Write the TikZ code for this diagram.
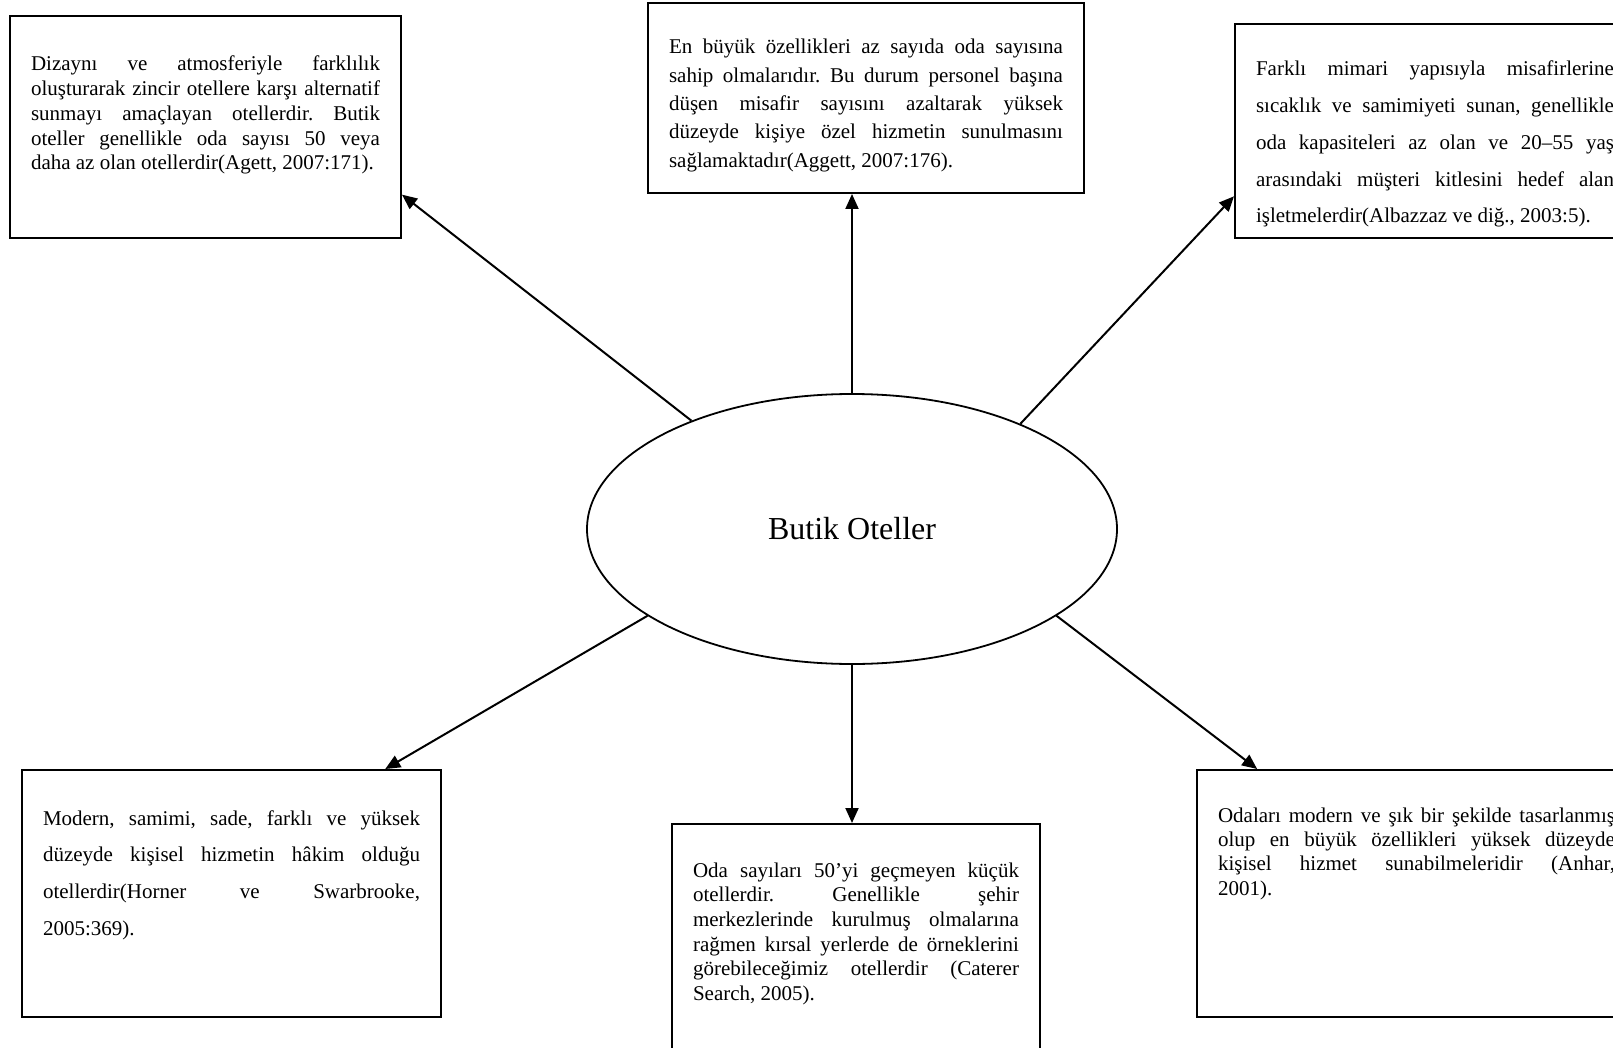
\documentclass[tikz,border=0pt]{standalone}
\usepackage{fontspec}
\setmainfont{Liberation Serif}
\usetikzlibrary{arrows.meta,shapes.geometric}
\frenchspacing
\hyphenpenalty=10000
\exhyphenpenalty=10000
\tolerance=10000

\begin{document}
\begin{tikzpicture}[x=1pt,y=-1pt,
	kutu/.style={draw,line width=2pt,anchor=north west,inner xsep=21pt,inner ysep=0pt,align=justify,font=\fontsize{21}{24.7}\selectfont},
	ok/.style={line width=2pt,-{Triangle[length=15pt,width=13pt]}}]
		\useasboundingbox (0,0) rectangle (1613,1048);
		\node[draw,ellipse,line width=1.8pt,minimum width=530pt,minimum height=270pt,font=\fontsize{32}{38}\selectfont] (butik) at (852,529) {Butik Oteller};
		\node[kutu,text width=349pt,text height=55pt,text depth=167pt] (dizayn) at (9,15) {Dizaynı ve atmosferiyle farklılık\linebreak oluşturarak zincir otellere karşı alternatif\linebreak sunmayı amaçlayan otellerdir. Butik\linebreak oteller genellikle oda sayısı 50 veya\linebreak daha az olan otellerdir(Agett, 2007:171).};
		\node[kutu,text width=394pt,text height=51pt,text depth=139pt,font=\fontsize{21}{28.3}\selectfont] (enbuyuk) at (647,2) {En büyük özellikleri az sayıda oda sayısına\linebreak sahip olmalarıdır. Bu durum personel başına\linebreak düşen misafir sayısını azaltarak yüksek\linebreak düzeyde kişiye özel hizmetin sunulmasını\linebreak sağlamaktadır(Aggett, 2007:176).};
		\node[kutu,text width=358pt,text height=52pt,text depth=162pt,font=\fontsize{21}{36.7}\selectfont] (farkli) at (1234,23) {Farklı mimari yapısıyla misafirlerine\linebreak sıcaklık ve samimiyeti sunan, genellikle\linebreak oda kapasiteleri az olan ve 20–55 yaş\linebreak arasındaki müşteri kitlesini hedef alan\linebreak işletmelerdir(Albazzaz ve diğ., 2003:5).};
		\node[kutu,text width=377pt,text height=55pt,text depth=192pt,font=\fontsize{21}{36.7}\selectfont] (modern) at (21,769) {Modern, samimi, sade, farklı ve yüksek\linebreak düzeyde kişisel hizmetin hâkim olduğu\linebreak otellerdir(Horner ve Swarbrooke,\linebreak 2005:369).};
		\node[kutu,text width=326pt,text height=53pt,text depth=184pt] (oda) at (671,823) {Oda sayıları 50’yi geçmeyen küçük\linebreak otellerdir. Genellikle şehir\linebreak merkezlerinde kurulmuş olmalarına\linebreak rağmen kırsal yerlerde de örneklerini\linebreak görebileceğimiz otellerdir (Caterer\linebreak Search, 2005).};
		\node[kutu,text width=397pt,text height=52pt,text depth=195pt,font=\fontsize{21}{24.4}\selectfont] (odalar) at (1196,769) {Odaları modern ve şık bir şekilde tasarlanmış\linebreak olup en büyük özellikleri yüksek düzeyde\linebreak kişisel hizmet sunabilmeleridir (Anhar,\linebreak 2001).};
		\draw[ok] (butik.146.6) -- (dizayn.-19.4);
		\draw[ok] (butik.north) -- (butik.north |- enbuyuk.south);
		\draw[ok] (butik.32.6) -- (farkli.198);
		\draw[ok] (butik.203.2) -- (modern.39.8);
		\draw[ok] (butik.south) -- (butik.south |- oda.north);
		\draw[ok] (butik.-23.3) -- (odalar.142.1);
\end{tikzpicture}
\end{document}
